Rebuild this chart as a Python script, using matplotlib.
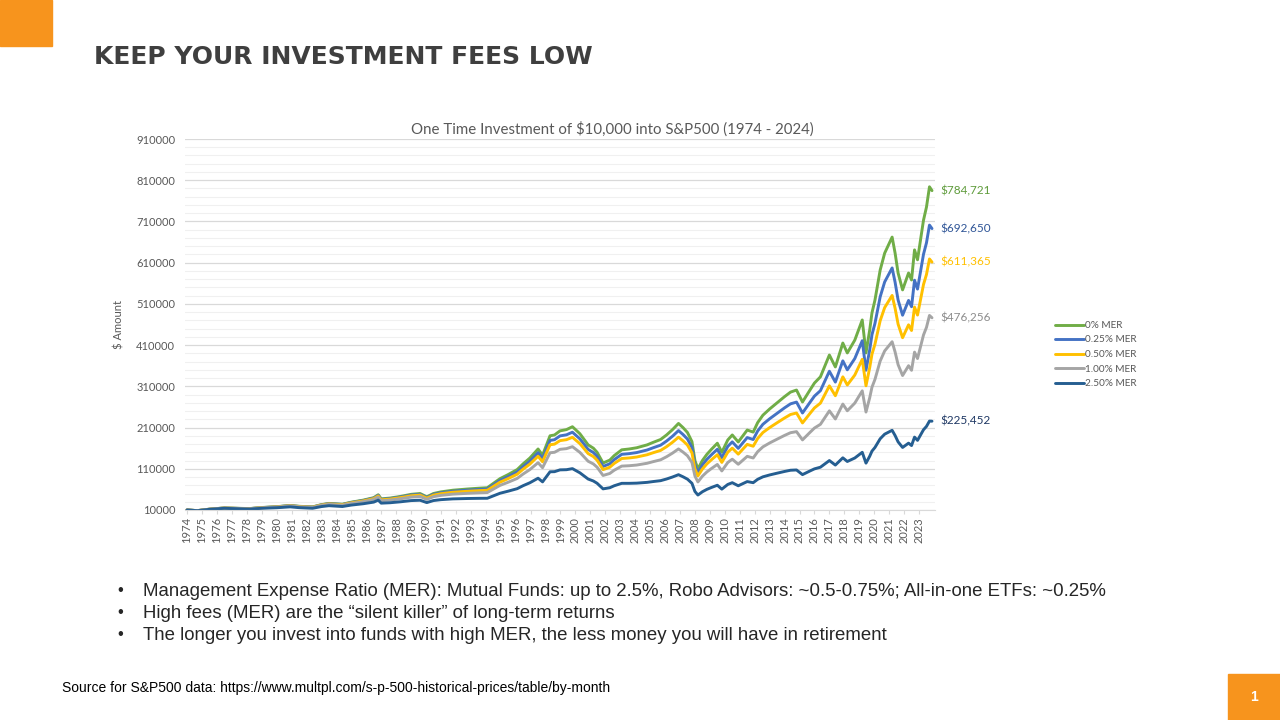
import matplotlib
matplotlib.use("Agg")
import matplotlib.pyplot as plt
from matplotlib.patches import Rectangle

# month positions (fractional year)
years = [1974.0, 1974.7, 1975.5, 1976.5, 1977.5, 1978.2, 1979.0, 1980.0, 1980.9, 1981.5,
         1982.4, 1983.0, 1983.5, 1984.4, 1985.0, 1985.8, 1986.5, 1986.8, 1987.0, 1987.6,
         1988.3, 1989.0, 1989.6, 1990.05, 1990.5, 1991.0, 1991.8, 1992.8, 1993.6, 1994.1,
         1994.95, 1995.5, 1996.1, 1996.5, 1996.95, 1997.5, 1997.8, 1998.3, 1998.6, 1998.97,
         1999.4, 1999.8, 2000.3, 2000.85, 2001.2, 2001.45, 2001.85, 2002.3, 2002.6, 2003.1,
         2003.6, 2004.1, 2004.8, 2005.2, 2005.7, 2006.1, 2006.5, 2006.9, 2007.2, 2007.5,
         2007.8, 2008.0, 2008.2, 2008.5, 2008.8, 2009.1, 2009.5, 2009.8, 2010.2, 2010.5,
         2010.9, 2011.5, 2011.9, 2012.2, 2012.55, 2013.0, 2013.5, 2014.0, 2014.4, 2014.8,
         2015.2, 2015.7, 2016.0, 2016.4, 2017.0, 2017.4, 2017.9, 2018.2, 2018.7, 2019.2,
         2019.45, 2019.7, 2019.85, 2020.05, 2020.4, 2020.7, 2021.2, 2021.4, 2021.6, 2021.9,
         2022.3, 2022.5, 2022.7, 2022.9, 2023.3, 2023.5, 2023.7, 2023.87]

mer_0 = [10000, 8500, 12000, 15000, 14000, 13500, 16000, 18000, 21000, 19000,
         17500, 23000, 26000, 24000, 29000, 34000, 40000, 47000, 37000, 39000,
         43000, 48000, 50000, 42000, 50000, 54000, 58000, 61000, 63000, 64000,
         86000, 96000, 108000, 122000, 136000, 158000, 143000, 190000, 192000, 202000,
         205000, 212000, 195000, 168000, 160000, 150000, 124000, 131000, 142000, 156000,
         158000, 161000, 168000, 174000, 181000, 192000, 205000, 220000, 210000, 198000,
         176000, 130000, 110000, 130000, 145000, 157000, 172000, 150000, 180000, 192000,
         175000, 204000, 199000, 222000, 240000, 255000, 270000, 285000, 296000, 301000,
         272000, 301000, 318000, 333000, 386000, 357000, 415000, 391000, 422000, 471000,
         391000, 447000, 488000, 519000, 592000, 633000, 672000, 633000, 585000, 544000,
         585000, 568000, 641000, 617000, 713000, 745000, 794000, 784721]

mer_025 = [10000, 8485, 11956, 14907, 13878, 13358, 15802, 17732, 20641, 18647,
           17136, 22487, 25389, 23383, 28214, 33011, 38768, 45520, 35816, 37694,
           41486, 46229, 48085, 40345, 47975, 51748, 55471, 58194, 59982, 60858,
           81605, 90970, 102190, 115327, 128411, 148978, 134735, 178790, 180538, 189759,
           192372, 198750, 182579, 157097, 149472, 140040, 115655, 122053, 132188, 145049,
           146719, 149328, 155551, 160933, 167208, 177197, 188990, 202620, 193263, 182081,
           161726, 119405, 100980, 119249, 132907, 143796, 157380, 137145, 164412, 175238,
           159565, 185722, 180990, 201754, 217920, 231285, 244566, 257840, 267525, 271773,
           245344, 271141, 286264, 299467, 346628, 320265, 371840, 350062, 377352, 420650,
           348968, 398724, 435101, 462533, 527117, 563180, 597139, 562231, 519363, 482582,
           518427, 503134, 567477, 545983, 630292, 658282, 701181, 692650]

mer_050 = [10000, 8470, 11910, 14814, 13756, 13219, 15605, 17467, 20286, 18299,
           16779, 21986, 24791, 22781, 27446, 32048, 37572, 44081, 34665, 36430,
           40024, 44525, 46240, 38753, 46030, 49588, 53053, 55516, 57110, 57869,
           77434, 86208, 96692, 109007, 121244, 140478, 126955, 168264, 169786, 178285,
           180564, 186348, 170976, 146899, 139664, 130770, 107892, 113721, 123086, 134878,
           136275, 138508, 144026, 148874, 154484, 163546, 174271, 186648, 177912, 167488,
           148650, 109694, 92719, 109421, 121858, 131754, 144050, 125445, 150228, 160013,
           145548, 169157, 164692, 183439, 197976, 209865, 221670, 233187, 241714, 245315,
           221218, 244201, 257612, 269231, 311155, 287207, 333038, 313308, 337305, 375528,
           311353, 355499, 387814, 412034, 469160, 500893, 530477, 499184, 460863, 427910,
           459225, 445482, 502224, 482926, 556924, 581398, 618998, 611365]

mer_100 = [10000, 8440, 11820, 14628, 13516, 12942, 15216, 16947, 19593, 17621,
           16083, 21011, 23634, 21619, 25967, 30202, 35280, 41332, 32468, 34024,
           37251, 41290, 42755, 35742, 42360, 45517, 48500, 50502, 51742, 52301,
           69686, 77357, 86508, 97332, 108011, 124788, 112598, 148865, 149971, 157196,
           158855, 163622, 149760, 128318, 121776, 113880, 93769, 98617, 106571, 116501,
           117410, 119043, 123362, 127264, 131714, 139181, 148010, 158202, 150549, 141530,
           125435, 92469, 78089, 92014, 102327, 110465, 120538, 104805, 125280, 133229,
           120943, 140148, 136176, 151448, 163152, 172584, 181818, 190950, 197521, 200075,
           180064, 198269, 208831, 217815, 250553, 230801, 266970, 250748, 269278, 299038,
           247620, 282370, 307830, 326711, 371362, 395878, 418186, 393156, 362583, 336192,
           360068, 348922, 392933, 377481, 434502, 453109, 481958, 476256]

mer_250 = [10000, 8350, 11552, 14080, 12814, 12140, 14098, 15464, 17634, 15713,
           14145, 18313, 20444, 18444, 21950, 25221, 29152, 33995, 26625, 27635,
           29937, 32832, 33680, 27972, 32920, 35111, 36958, 37893, 38348, 38464,
           50585, 55690, 61700, 69003, 76051, 87137, 78278, 102695, 102989, 107343,
           107769, 110325, 100211, 85142, 80368, 74880, 61281, 64007, 68856, 74693,
           74702, 75155, 77045, 78996, 81142, 85190, 90057, 95656, 90615, 84803,
           74800, 54977, 46288, 54288, 60088, 64574, 70038, 60615, 72000, 76224,
           68775, 78968, 76257, 84427, 90456, 95013, 99306, 103512, 106442, 107126,
           95826, 104688, 109774, 113786, 129966, 118988, 136577, 127701, 136095, 149966,
           123673, 140492, 152793, 161669, 182810, 193951, 203347, 190597, 175266, 161731,
           172166, 166367, 186787, 178930, 204702, 212847, 225734, 225452]

series = [("0% MER", mer_0, "#70AD47", "#5E9B3A"),
          ("0.25% MER", mer_025, "#4472C4", "#2F5597"),
          ("0.50% MER", mer_050, "#FFC000", "#FFC000"),
          ("1.00% MER", mer_100, "#A5A5A5", "#8C8C8C"),
          ("2.50% MER", mer_250, "#255E91", "#1F3864")]

tick_years = list(range(1974, 2024))
y_ticks = list(range(10000, 910001, 100000))

bullets = ["Management Expense Ratio (MER): Mutual Funds: up to 2.5%, Robo Advisors: ~0.5-0.75%; All-in-one ETFs: ~0.25%",
           "High fees (MER) are the \u201csilent killer\u201d of long-term returns",
           "The longer you invest into funds with high MER, the less money you will have in retirement"]

chart_font = "Lato"
slide_font = "Liberation Sans"
orange = "#F7941D"

fig = plt.figure(figsize=(12.8, 7.2), dpi=100)

# slide decorations
fig.patches.append(Rectangle((0, 1 - 46 / 720), 52 / 1280, 46 / 720, transform=fig.transFigure,
                             color=orange, zorder=0))
fig.patches.append(Rectangle((1228 / 1280, 0), 52 / 1280, 46 / 720, transform=fig.transFigure,
                             color=orange, zorder=0))
fig.text(1254 / 1280, 1 - 697 / 720, "1", color="white", fontsize=10, fontweight="bold",
         family=slide_font, ha="center", va="center")
fig.text(94 / 1280, 1 - 57 / 720, "KEEP YOUR INVESTMENT FEES LOW", color="#3F3F3F",
         fontsize=18, fontweight="heavy", family="DejaVu Sans", ha="left", va="center")

# chart
ax = fig.add_axes([185 / 1280, 1 - 510 / 720, 750 / 1280, 371 / 720])
for name, vals, color, lab_color in series:
    ax.plot(years, vals, color=color, linewidth=2.1, label=name, solid_capstyle="round")
    ax.annotate(f"${vals[-1]:,}", xy=(years[-1], vals[-1]), xytext=(6, 0),
                textcoords="offset points", va="center", ha="left", color=lab_color,
                fontsize=8.5, family=chart_font)

ax.set_xlim(1973.866, 2024.07)
ax.set_ylim(10000, 910000)
ax.set_yticks(y_ticks)
ax.set_yticklabels([str(v) for v in y_ticks])
ax.set_yticks(list(range(10000, 910001, 20000)), minor=True)
ax.set_xticks(tick_years)
ax.set_xticklabels([str(y) for y in tick_years], rotation=90)
ax.grid(True, which="major", axis="y", color="#D9D9D9", linewidth=0.9)
ax.grid(True, which="minor", axis="y", color="#F0F0F0", linewidth=0.8)
ax.set_axisbelow(True)
for s in ["top", "right", "left"]:
    ax.spines[s].set_visible(False)
ax.spines["bottom"].set_color("#D9D9D9")
ax.tick_params(axis="y", which="both", length=0, pad=7, labelsize=8, labelcolor="#595959")
ax.tick_params(axis="x", length=3, color="#D9D9D9", pad=2, labelsize=8, labelcolor="#595959")
for lab in ax.get_xticklabels() + ax.get_yticklabels():
    lab.set_family(chart_font)

ax.set_ylabel("$ Amount", fontsize=8, color="#595959", family=chart_font)
ax.yaxis.set_label_coords(-0.08, 0.5)
fig.text(612 / 1280, 1 - 129 / 720, "One Time Investment of $10,000 into S&P500 (1974 - 2024)",
         fontsize=10.8, color="#595959", family=chart_font, ha="center", va="center")

leg = fig.legend(loc="upper left", bbox_to_anchor=(1046 / 1280, 1 - 312 / 720), frameon=False,
                 handlelength=2.9, handletextpad=0.1, labelspacing=0.55,
                 prop={"family": chart_font, "size": 7.2})
for t in leg.get_texts():
    t.set_color("#595959")

# bullet text
for i, line in enumerate(bullets):
    yy = 1 - (591 + 22 * i) / 720
    fig.text(117 / 1280, yy, "\u2022", fontsize=12, color="#262626", family=slide_font,
             ha="left", va="center")
    fig.text(143 / 1280, yy, line, fontsize=13.4, color="#262626", family=slide_font,
             ha="left", va="center")

fig.text(62 / 1280, 1 - 688 / 720,
         "Source for S&P500 data: https://www.multpl.com/s-p-500-historical-prices/table/by-month",
         fontsize=10, color="#000000", family=slide_font, ha="left", va="center")

fig.savefig("out.png", dpi=100)
